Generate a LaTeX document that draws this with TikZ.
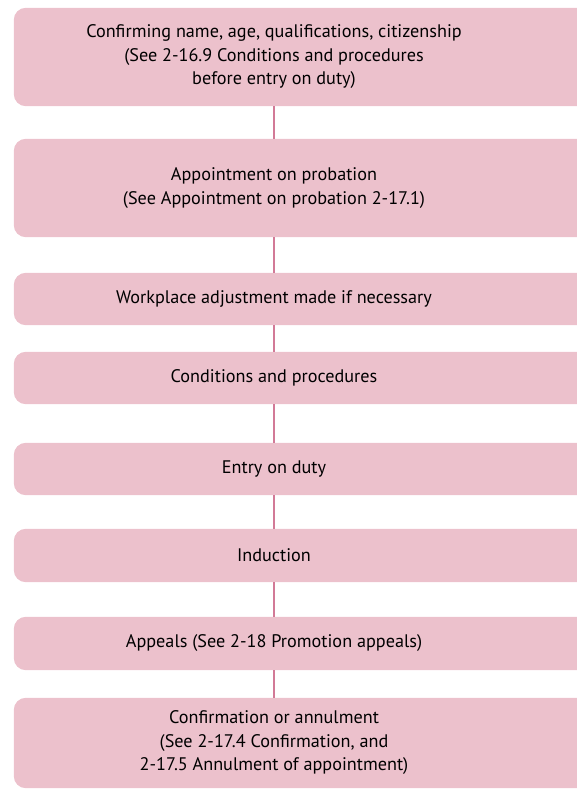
\documentclass[tikz,border=0pt]{standalone}
\usepackage{fontspec}
\setmainfont{PT Sans}
\usetikzlibrary{backgrounds}

\definecolor{stepfill}{HTML}{ECC1CC}
\definecolor{stepline}{HTML}{D27A97}

\tikzset{
  stepbox/.style={minimum width=518pt, align=center, inner sep=0pt,
    font=\fontsize{18.2}{23.5}\selectfont},
  link/.style={stepline, line width=1.1pt}
}

\begin{document}
\begin{tikzpicture}[x=1pt, y=-1pt]
\useasboundingbox (0,0) rectangle (576,790);

\node[stepbox, minimum height=98pt] (confirm) at (274,57)
  {Confirming name, age, qualifications, citizenship\\(See 2-16.9 Conditions and procedures\\before entry on duty)};
\node[stepbox, minimum height=98pt] (probation) at (274,188)
  {Appointment on probation\\(See Appointment on probation 2-17.1)};
\node[stepbox, minimum height=52pt] (adjust) at (274,299) {Workplace adjustment made if necessary};
\node[stepbox, minimum height=52pt] (conditions) at (274,378) {Conditions and procedures};
\node[stepbox, minimum height=52pt] (entry) at (274,469) {Entry on duty};
\node[stepbox, minimum height=53pt] (induction) at (274,555.5) {Induction};
\node[stepbox, minimum height=53pt] (appeals) at (274,643.5) {Appeals (See 2-18 Promotion appeals)};
\node[stepbox, minimum height=90pt] (outcome) at (274,743)
  {Confirmation or annulment\\(See 2-17.4 Confirmation, and\\2-17.5 Annulment of appointment)};

% pink panels run off the right edge
\begin{scope}[on background layer]
\foreach \n in {confirm,probation,adjust,conditions,entry,induction,appeals,outcome}
  \fill[stepfill, rounded corners=12pt] ([xshift=-1pt]\n.north west) rectangle ([xshift=90pt]\n.south east);
\end{scope}

\draw[link] (confirm) -- (probation);
\draw[link] (probation) -- (adjust);
\draw[link] (adjust) -- (conditions);
\draw[link] (conditions) -- (entry);
\draw[link] (entry) -- (induction);
\draw[link] (induction) -- (appeals);
\draw[link] (appeals) -- (outcome);
\end{tikzpicture}
\end{document}
